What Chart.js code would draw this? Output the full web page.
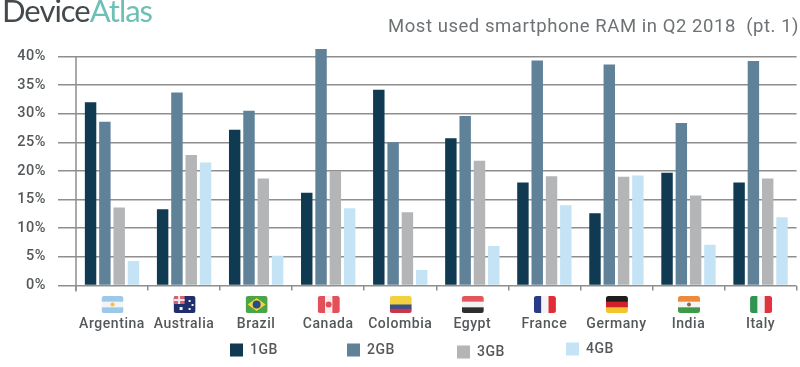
<!DOCTYPE html>
<html>
<head>
<meta charset="utf-8">
<title>Most used smartphone RAM in Q2 2018 (pt. 1)</title>
<script src="https://cdn.jsdelivr.net/npm/chart.js@4"></script>
<style>
  html, body { margin: 0; background: #fff; overflow: hidden; }
  canvas { display: block; }
</style>
</head>
<body>
<canvas id="c" width="800" height="367"></canvas>
<script>
const countries = ["Argentina", "Australia", "Brazil", "Canada", "Colombia", "Egypt", "France", "Germany", "India", "Italy"];
const ram1gb = [32, 13.3, 27.2, 16.2, 34.2, 25.7, 18, 12.6, 19.7, 18];
const ram2gb = [28.6, 33.7, 30.5, 41.3, 25, 29.6, 39.3, 38.6, 28.4, 39.2];
const ram3gb = [13.6, 22.8, 18.7, 20, 12.8, 21.8, 19.1, 19, 15.7, 18.7];
const ram4gb = [4.3, 21.5, 5.2, 13.5, 2.7, 6.9, 14, 19.2, 7.1, 11.9];
const yTicks = [0, 5, 10, 15, 20, 25, 30, 35, 40];

const titleText = "Most used smartphone RAM in Q2 2018  (pt. 1)";
const TEXT = "#54585a", GRID = "#8e8e8e";
const FONT = "Roboto, sans-serif";
const SPACING = "0.55px";  // the original face (DIN-like) runs wider than Roboto

// flag stripes per country: [direction, colours...]
const flagStripes = [
  ["h", "#9cc9ea", "#f4f4f4", "#9cc9ea"],
  ["h", "#1f2f6b"],
  ["h", "#4aa548"],
  ["v", "#e4505a", "#f7eeee", "#e4505a"],
  ["h", "#f4cf3e", "#f4cf3e", "#33508f", "#c9364a"],
  ["h", "#e4555d", "#f2f2f2", "#2e2e2e"],
  ["v", "#2b3a86", "#f4f4f4", "#e02c36"],
  ["h", "#1d1d1d", "#d1202a", "#f2c52c"],
  ["h", "#ef8a3a", "#f4f4f4", "#3f9a48"],
  ["v", "#2f9550", "#f4f4f4", "#e0333d"],
];

// hand placed like the original, the entries do not sit on one line
const legendSpots = [[230, 350], [347, 350], [457, 352], [566, 349]];

function drawFlag(ctx, i, cx, top) {
  const w = 22, h = 17, x = cx - w / 2 + 0.5;
  const s = flagStripes[i], parts = s.slice(1);
  ctx.save();
  ctx.beginPath();
  ctx.roundRect(x, top, w, h, 2.5);
  ctx.clip();
  parts.forEach((col, k) => {
    ctx.fillStyle = col;
    if (s[0] === "h") ctx.fillRect(x, top + k * h / parts.length, w, h / parts.length + 0.5);
    else ctx.fillRect(x + k * w / parts.length, top, w / parts.length + 0.5, h);
  });
  const name = countries[i];
  if (name === "Australia") {
    ctx.fillStyle = "#d9606e"; ctx.fillRect(x, top, 11, 8);
    ctx.fillStyle = "#e8e8ee"; ctx.fillRect(x + 4.5, top, 2, 8); ctx.fillRect(x, top + 3, 11, 2);
    ctx.fillStyle = "#f2f2f2";
    ctx.fillRect(x + 15, top + 4, 2, 2); ctx.fillRect(x + 18, top + 8, 2, 2);
    ctx.fillRect(x + 15, top + 12, 2, 2); ctx.fillRect(x + 6, top + 11, 3, 3);
  } else if (name === "Brazil") {
    ctx.fillStyle = "#f0d53c";
    ctx.beginPath();
    ctx.moveTo(x + 2, top + h / 2); ctx.lineTo(x + w / 2, top + 2);
    ctx.lineTo(x + w - 2, top + h / 2); ctx.lineTo(x + w / 2, top + h - 2);
    ctx.fill();
    ctx.fillStyle = "#2b4a8a";
    ctx.beginPath(); ctx.arc(x + w / 2, top + h / 2, 4, 0, 7); ctx.fill();
  } else if (name === "Canada") {
    ctx.fillStyle = "#e4505a";
    ctx.beginPath(); ctx.arc(x + w / 2, top + h / 2, 3, 0, 7); ctx.fill();
  } else if (name === "Argentina") {
    ctx.fillStyle = "#eec04a";
    ctx.beginPath(); ctx.arc(x + w / 2, top + h / 2, 2, 0, 7); ctx.fill();
  } else if (name === "India") {
    ctx.fillStyle = "#8a6a50";
    ctx.beginPath(); ctx.arc(x + w / 2, top + h / 2, 2, 0, 7); ctx.fill();
  }
  ctx.restore();
}

const extras = {
  id: "extras",
  // has to be set here, Chart.js resets the canvas state when it sizes it
  beforeDraw(chart) { chart.ctx.letterSpacing = SPACING; },
  beforeDatasetsDraw(chart) {
    // y axis line stops at the 40% grid line and runs past the x axis
    const { ctx } = chart, y = chart.scales.y, x0 = chart.chartArea.left;
    ctx.save();
    ctx.strokeStyle = GRID; ctx.lineWidth = 1.5;
    ctx.beginPath();
    ctx.moveTo(x0, y.getPixelForValue(40));
    ctx.lineTo(x0, y.getPixelForValue(0) + 6);
    ctx.stroke();
    ctx.restore();
  },
  afterDraw(chart) {
    const { ctx } = chart, xs = chart.scales.x;
    countries.forEach((_, i) => drawFlag(ctx, i, xs.getPixelForValue(i), 296));

    // legend
    ctx.save();
    ctx.textBaseline = "middle";
    ctx.textAlign = "left";
    ctx.font = "500 14px " + FONT;
    chart.data.datasets.forEach((ds, i) => {
      const [lx, ly] = legendSpots[i];
      ctx.fillStyle = ds.backgroundColor;
      ctx.fillRect(lx, ly - 6.5, 13, 13);
      ctx.fillStyle = TEXT;
      ctx.fillText(ds.label, lx + 20, ly);
    });

    // title, placed by hand: it starts right of centre and stops short of the plot edge
    ctx.font = "400 18.5px " + FONT;
    ctx.fillStyle = "#6e7274";
    ctx.fillText(titleText, 388, 27);

    // logo
    ctx.textBaseline = "alphabetic";
    ctx.letterSpacing = "-1px";
    ctx.font = "400 31px Lato, sans-serif";
    ctx.fillStyle = "#43494c";
    ctx.fillText("Device", 2, 22);
    const w = ctx.measureText("Device").width;
    ctx.fillStyle = "#6cc0b5";
    ctx.fillText("Atlas", 2 + w, 22);
    ctx.restore();
  },
};

new Chart(document.getElementById("c"), {
  type: "bar",
  data: {
    labels: countries,
    datasets: [
      { label: "1GB", data: ram1gb, backgroundColor: "#0f3a52" },
      { label: "2GB", data: ram2gb, backgroundColor: "#5f8299" },
      { label: "3GB", data: ram3gb, backgroundColor: "#b3b5b7" },
      { label: "4GB", data: ram4gb, backgroundColor: "#c4e3f5" },
    ],
  },
  options: {
    responsive: false,
    animation: false,
    categoryPercentage: 0.794,
    barPercentage: 0.8,
    layout: { padding: { left: 0, right: 3, top: 45, bottom: 0 } },
    plugins: {
      legend: { display: false },
      tooltip: { enabled: false },
    },
    scales: {
      x: {
        grid: { offset: true, drawOnChartArea: false, color: GRID, lineWidth: 1.5, tickLength: 5 },
        border: { display: false },
        ticks: { color: TEXT, font: { family: FONT, size: 14, weight: "500" }, padding: 26, maxRotation: 0, autoSkip: false },
        afterFit(s) { s.height = 81.5; },
      },
      y: {
        min: 0, max: 42,
        afterBuildTicks(s) { s.ticks = yTicks.map(v => ({ value: v })); },
        grid: { color: GRID, lineWidth: 1.5, tickLength: 18 },
        border: { display: false },
        ticks: { color: TEXT, font: { family: FONT, size: 14.5, weight: "500" }, padding: 12, callback: v => v + "%" },
        afterFit(s) { s.width = 76; },
      },
    },
  },
  plugins: [extras],
});
</script>
</body>
</html>
